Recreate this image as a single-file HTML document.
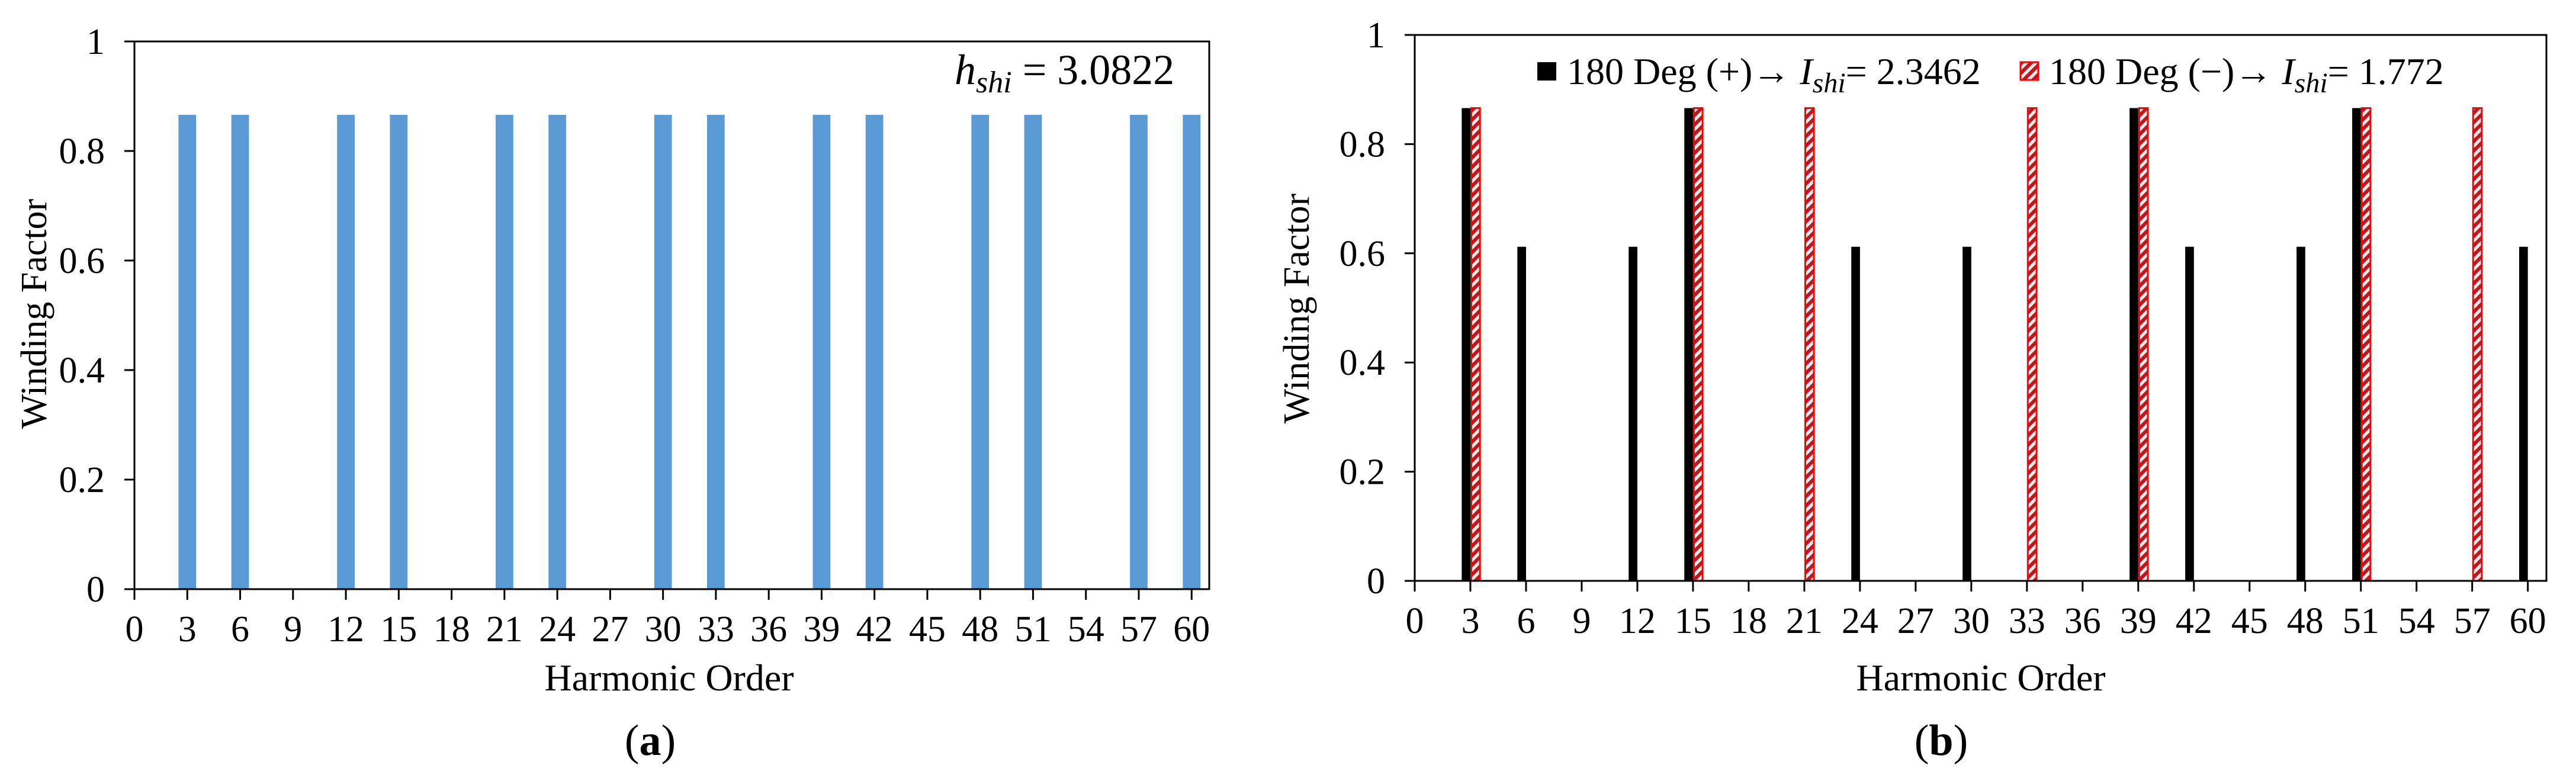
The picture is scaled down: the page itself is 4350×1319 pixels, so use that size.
<!DOCTYPE html>
<html><head><meta charset="utf-8"><style>
html,body{margin:0;padding:0;background:#fff;width:4350px;height:1319px;overflow:hidden}
svg, svg text{font-family:"Liberation Serif","DejaVu Serif",serif;fill:#000}
</style></head><body>
<svg id="root" width="4350" height="1319" viewBox="0 0 4350 1319" xmlns="http://www.w3.org/2000/svg" font-family="Liberation Serif, DejaVu Serif, serif">
<defs>
<pattern id="hatch" patternUnits="userSpaceOnUse" width="16" height="16">
<rect width="16" height="16" fill="#fde4e4"/>
<path d="M0,16 L16,0 M-4,4 L4,-4 M12,20 L20,12" stroke="#c0161e" stroke-width="6"/>
</pattern>
</defs>
<g id="pa"></g>
<g id="pb"></g>
</svg>
<script>
const xTicks = [0,3,6,9,12,15,18,21,24,27,30,33,36,39,42,45,48,51,54,57,60];
const yTicks = [0,0.2,0.4,0.6,0.8,1];
const yTickLabels = ["0","0.2","0.4","0.6","0.8","1"];
const aCats = [3,6,12,15,21,24,30,33,39,42,48,51,57,60];
const aVals = [0.866,0.866,0.866,0.866,0.866,0.866,0.866,0.866,0.866,0.866,0.866,0.866,0.866,0.866];
const bPosCats = [3,6,12,15,24,30,39,42,48,51,60];
const bPosVals = [0.866,0.612,0.612,0.866,0.612,0.612,0.866,0.612,0.612,0.866,0.612];
const bNegCats = [3,15,21,33,39,51,57];
const bNegVals = [0.866,0.866,0.866,0.866,0.866,0.866,0.866];

const NS="http://www.w3.org/2000/svg";
function mk(tag, attrs, parent){const e=document.createElementNS(NS,tag);for(const k in attrs)e.setAttribute(k,attrs[k]);if(tag==='text')e.setAttribute('font-family','Liberation Serif, DejaVu Serif, serif');parent.appendChild(e);return e;}

function axes(g, L, R, T, B, xmax){
  const sx=v=>L+(R-L)*v/xmax, sy=v=>B-(B-T)*v;
  let f=mk('rect',{x:L,y:T,width:R-L,height:B-T,fill:'none',stroke:'#000','stroke-width':3},g);
  
  
  yTicks.forEach((v,i)=>{
    let t=mk('line',{x1:L-17,x2:L,y1:sy(v),y2:sy(v),stroke:'#000','stroke-width':3},g);
    
    
    let tx=mk('text',{x:L-50,y:sy(v)+21,'font-size':62,'text-anchor':'end'},g);
    tx.textContent=yTickLabels[i];
    
    
  });
  xTicks.forEach(v=>{
    let t=mk('line',{x1:sx(v),x2:sx(v),y1:B,y2:B+18,stroke:'#000','stroke-width':3},g);
    
    
    let tx=mk('text',{x:sx(v),y:B+88,'font-size':62,'text-anchor':'middle'},g);
    tx.textContent=String(v);
    
    
  });
  return {sx,sy};
}

(function(){
  const g=document.getElementById('pa');
  const L=227,R=2042,T=70,B=995,xmax=61;
  const {sx,sy}=axes(g,L,R,T,B,xmax);
  aCats.forEach((c,i)=>{
    let r=mk('rect',{x:sx(c-0.5),y:sy(aVals[i]),width:sx(1)-sx(0),height:B-sy(aVals[i]),fill:'#5b9bd5'},g);
    
    
  });
  mk('line',{x1:L,x2:R,y1:B,y2:B,stroke:'#000','stroke-width':3},g);
  let yt=mk('text',{x:0,y:0,'font-size':62,'text-anchor':'middle',transform:'translate(78,530) rotate(-90)'},g);
  yt.textContent='Winding Factor';
  
  
  let xt=mk('text',{x:1130,y:1166,'font-size':64,'text-anchor':'middle'},g);
  xt.textContent='Harmonic Order';
  
  
  let cap=mk('text',{x:1098,y:1275,'font-size':74,'text-anchor':'middle'},g);
  cap.innerHTML='(<tspan font-weight="bold">a</tspan>)';
  
  
  let h=mk('text',{x:1612,y:142,'font-size':72},g);
  h.innerHTML='<tspan font-style="italic">h</tspan><tspan font-style="italic" font-size="52" dy="14">shi</tspan><tspan dy="-14"> = 3.0822</tspan>';
  
  
})();

(function(){
  const g=document.getElementById('pb');
  const L=2389,R=4300,T=59,B=981,xmax=61;
  const {sx,sy}=axes(g,L,R,T,B,xmax);
  const w=(sx(1)-sx(0))*0.5;
  bPosCats.forEach((c,i)=>{
    let r=mk('rect',{x:sx(c)-w+1,y:sy(bPosVals[i]),width:w-1,height:B-sy(bPosVals[i]),fill:'#000'},g);
    
    
  });
  bNegCats.forEach((c,i)=>{
    let r=mk('rect',{x:sx(c)+1.5,y:sy(bNegVals[i]),width:w-1,height:B-sy(bNegVals[i]),fill:'url(#hatch)',stroke:'#ff0000','stroke-width':3},g);
    
    
  });
  mk('line',{x1:L,x2:R,y1:B,y2:B,stroke:'#000','stroke-width':3},g);
  let yt=mk('text',{x:0,y:0,'font-size':62,'text-anchor':'middle',transform:'translate(2210,521) rotate(-90)'},g);
  yt.textContent='Winding Factor';
  
  
  let xt=mk('text',{x:3345,y:1166,'font-size':64,'text-anchor':'middle'},g);
  xt.textContent='Harmonic Order';
  
  
  let cap=mk('text',{x:3278,y:1275,'font-size':74,'text-anchor':'middle'},g);
  cap.innerHTML='(<tspan font-weight="bold">b</tspan>)';
  
  
  let k1=mk('rect',{x:2596,y:105,width:32,height:31,fill:'#000'},g);
  
  
  let t1=mk('text',{x:2646,y:142,'font-size':64},g);
  t1.innerHTML='180 Deg (+)→ <tspan font-style="italic">I</tspan><tspan font-style="italic" font-size="48" dy="14">shi</tspan><tspan dy="-14">= 2.3462</tspan>';
  
  
  let k2=mk('rect',{x:3412,y:105,width:30,height:30,fill:'url(#hatch)',stroke:'#ff0000','stroke-width':3},g);
  
  
  let t2=mk('text',{x:3460,y:142,'font-size':64},g);
  t2.innerHTML='180 Deg (−)→ <tspan font-style="italic">I</tspan><tspan font-style="italic" font-size="48" dy="14">shi</tspan><tspan dy="-14">= 1.772</tspan>';
  
  
})();
</script>
</body></html>
